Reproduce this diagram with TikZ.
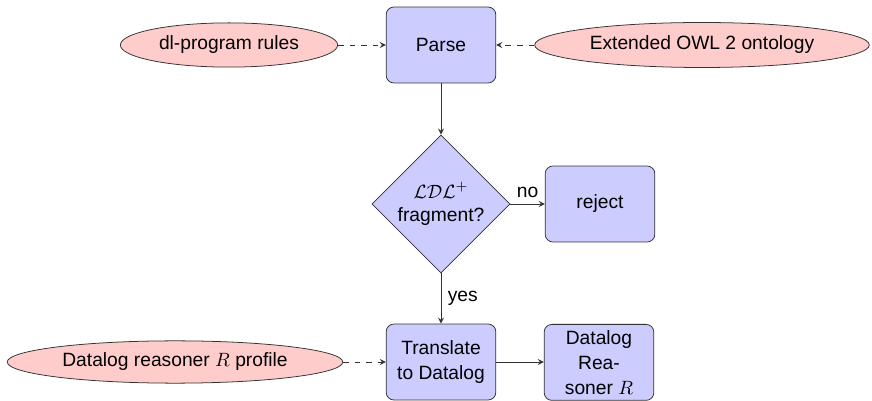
\documentclass[tikz,border=0pt]{standalone}
\usepackage{amsmath}
\usepackage{amssymb}
\usepackage{fontspec}
\setmainfont{Liberation Sans}
\usepackage{tikz}
\usetikzlibrary{arrows,shapes,positioning,calc,arrows.meta}

\begin{document}
\begin{tikzpicture}[>=stealth,x=0.52pt,y=-0.52pt,
    block/.style={rectangle,draw=black!80,fill=blue!20,rounded corners=4pt,
      minimum width=57pt,minimum height=39.5pt,align=center,inner sep=2pt,
      font={\fontsize{10pt}{13pt}\selectfont}},
    decision/.style={diamond,draw=black!80,fill=blue!20,aspect=1,
      minimum width=69.5pt,minimum height=69.5pt,align=center,inner sep=1pt},
    source/.style={ellipse,draw=black!80,fill=red!20,inner sep=1pt},
    line/.style={draw=black!80,->},
    dline/.style={draw=black!80,dashed,->}]
  \useasboundingbox (0,0) rectangle (872,401);
  % inputs and parsing
  \node[block] (parse) at (441,45) {Parse};
  \node[source,minimum width=113pt,minimum height=23pt] (rules) at (229,45) {dl-program rules};
  \node[source,minimum width=174pt,minimum height=23.4pt] (ontology) at (702,45) {Extended OWL 2 ontology};
  % fragment check
  \node[decision] (check) at (441,204) {$\mathcal{LDL}^+$\\fragment?};
  \node[block] (reject) at (600,204) {reject};
  % translation
  \node[block] (translate) at (441,362) {Translate\\to Datalog};
  \node[block,anchor=north] (reasoner) at (599,324) {Datalog\\Rea-\\soner $R$};
  \node[source,minimum width=174.5pt,minimum height=22pt] (profile) at (175,362) {Datalog reasoner $R$ profile};

  \draw[dline] (rules) -- (parse);
  \draw[dline] (ontology) -- (parse);
  \draw[line] (parse) -- (check);
  \draw[line] (check) -- node[above] {no} (reject);
  \draw[line] (check) -- node[right] {yes} (translate);
  \draw[dline] (profile) -- (translate);
  \draw[line] (translate) -- (translate -| reasoner.west);
\end{tikzpicture}
\end{document}
